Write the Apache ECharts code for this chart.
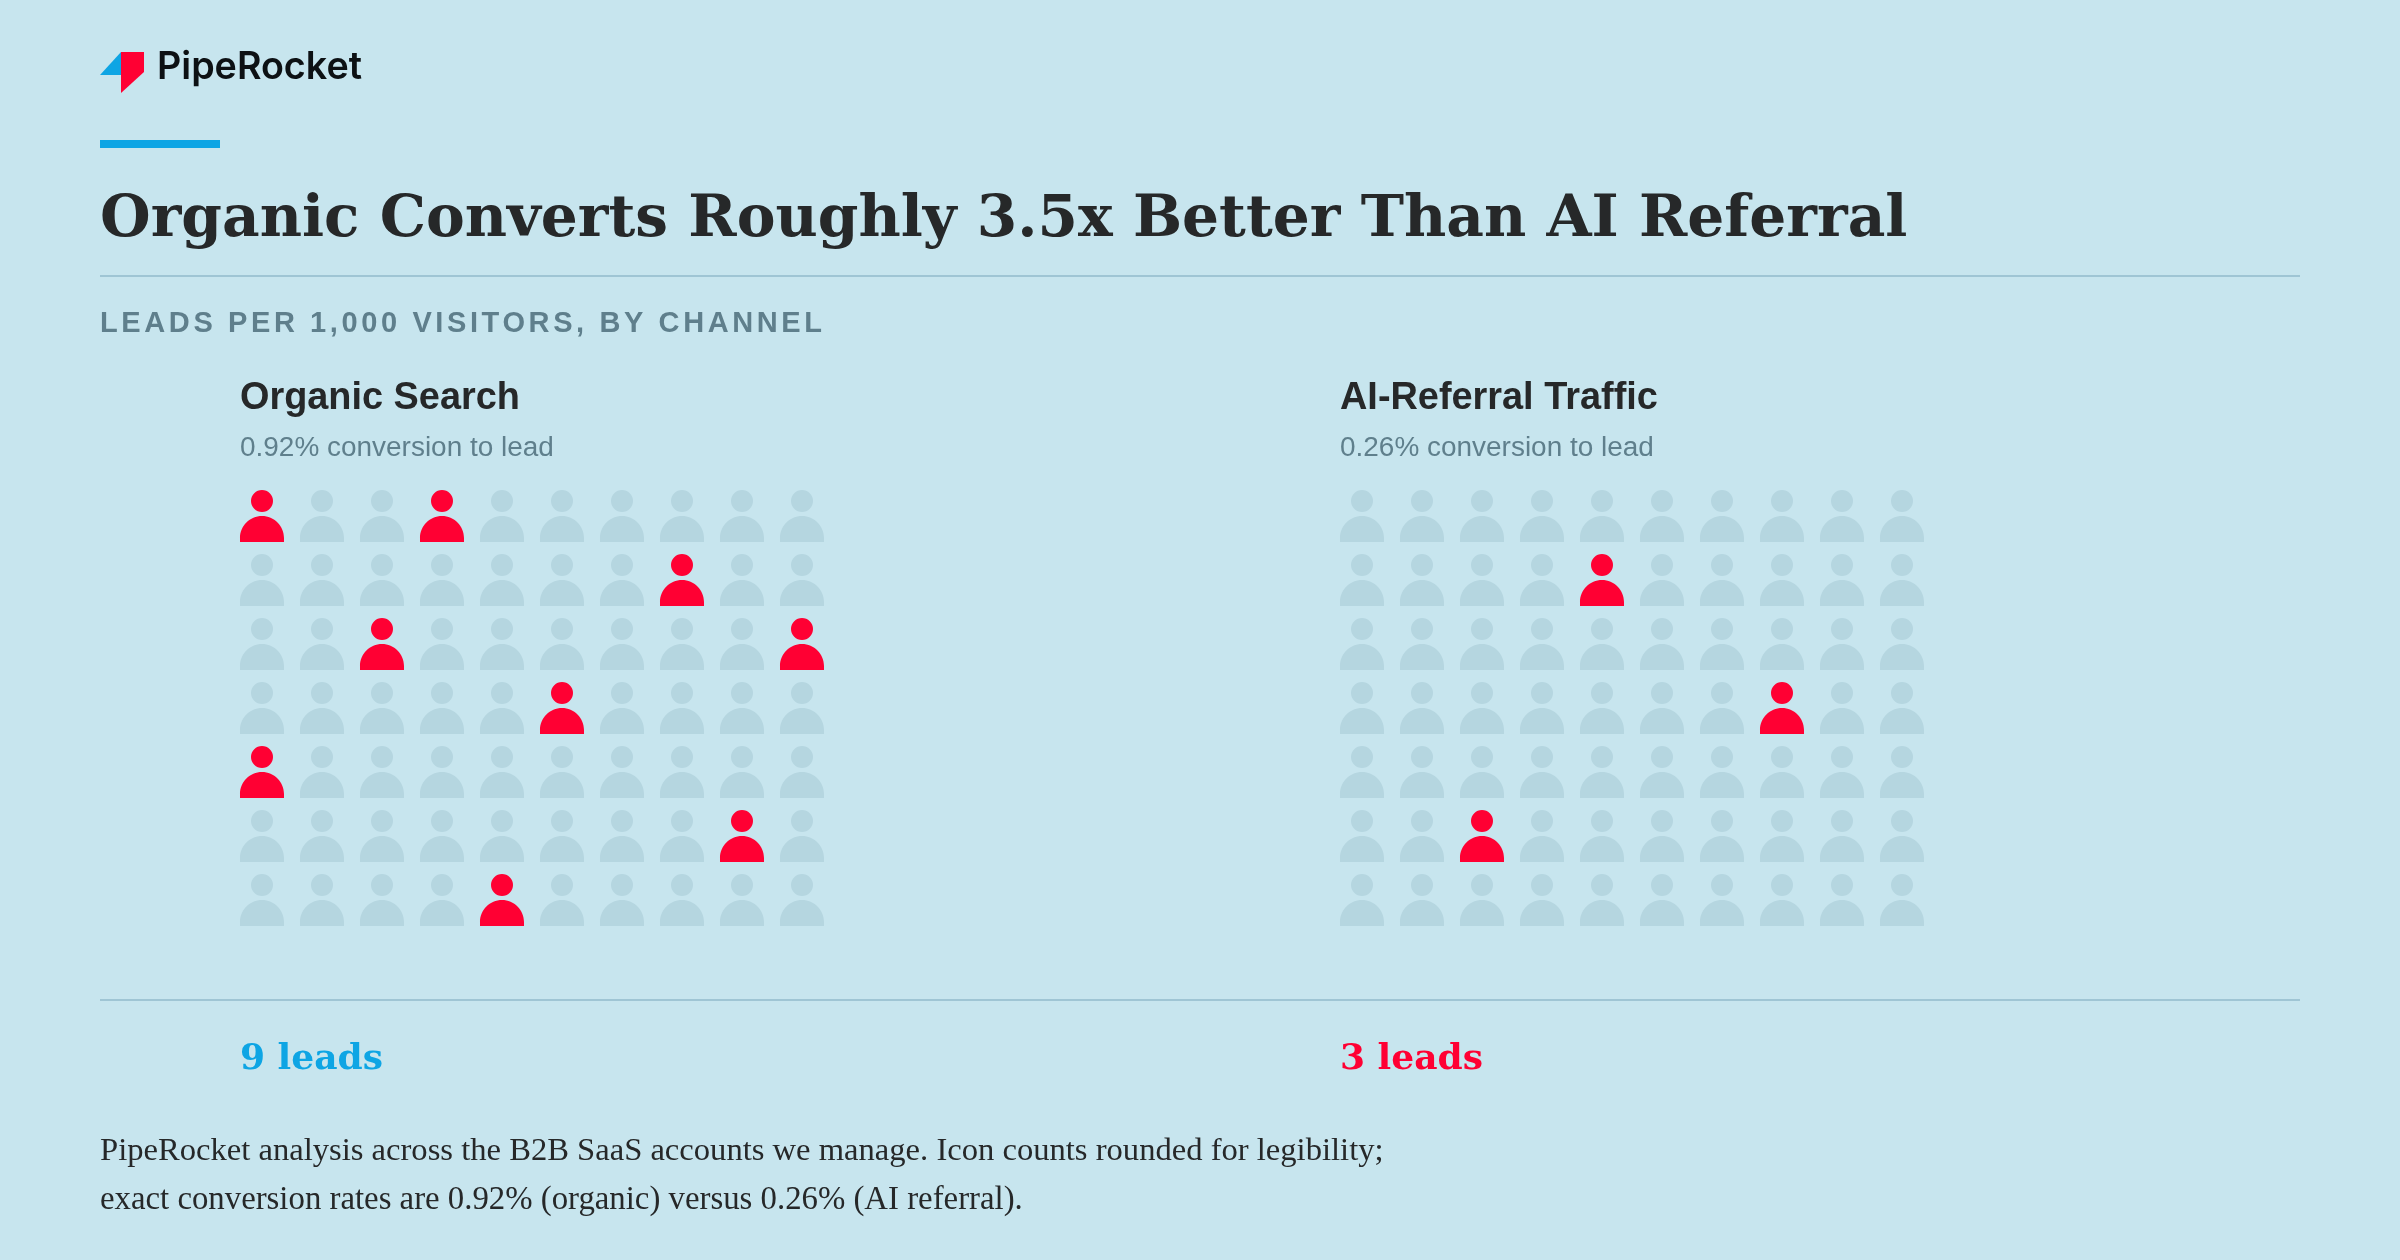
<!DOCTYPE html>
<html><head><meta charset="utf-8">
<style>html,body{margin:0;padding:0;background:#c7e5ee}#c{width:2400px;height:1260px}</style>
<script src="https://cdn.jsdelivr.net/npm/echarts@6/dist/echarts.min.js"></script>
</head><body><div id="c"></div>
<script>
const brand = 'PipeRocket';
const headline = 'Organic Converts Roughly 3.5x Better Than AI Referral';
const kicker = 'LEADS PER 1,000 VISITORS, BY CHANNEL';
const channels = ['Organic Search', 'AI-Referral Traffic'];
const rates = ['0.92% conversion to lead', '0.26% conversion to lead'];
const leads = ['9 leads', '3 leads'];
const footnotes = ['PipeRocket analysis across the B2B SaaS accounts we manage. Icon counts rounded for legibility;',
                   'exact conversion rates are 0.92% (organic) versus 0.26% (AI referral).'];
const columns = [0,1,2,3,4,5,6,7,8,9];
const rows = [0,1,2,3,4,5,6];
const organicHits = [[0,0],[3,0],[7,1],[2,2],[9,2],[5,3],[0,4],[8,5],[4,6]];
const aiHits = [[4,1],[7,3],[2,5]];

const BG='#c7e5ee', RED='#ff0033', BLUE='#0ea5e4', MUTE='#b5d6e0', INK='#262829', SLATE='#5f7f8c', RULE='#9fc5d4';
const person = 'path://M22 0a11 11 0 1 1 0 22a11 11 0 1 1 0-22zM22 26C34.150 26 44 35.850 44 48V52H0V48C0 35.850 9.850 26 22 26z';

const mctx = document.createElement('canvas').getContext('2d');
const fontStr=(f,s,w)=>`${w} ${s}px ${f}`;
const widthOf=(t,f,s,w)=>{mctx.font=fontStr(f,s,w);return mctx.measureText(t).width;};
const kickerSpacing=(722-widthOf(kicker,'"Liberation Sans"',29,700))/(kicker.length-1);

// canvas letter spacing, for the kicker line only
const ft = CanvasRenderingContext2D.prototype.fillText;
CanvasRenderingContext2D.prototype.fillText = function(t,x,y,m){
  if (t === kicker) { this.save(); this.letterSpacing = kickerSpacing+'px'; ft.call(this,t,x,y); this.restore(); return; }
  return m===undefined ? ft.call(this,t,x,y) : ft.call(this,t,x,y,m);
};

const chart = echarts.init(document.getElementById('c'), null, {renderer:'canvas', width:2400, height:1260});
const serif = '"DejaVu Serif"', sans = '"Liberation Sans"';
// x + alphabetic baseline -> zrender 'middle' anchored text
const txt = (x,base,text,font,size,weight,fill)=>{
  mctx.font=fontStr(font,size,weight); mctx.textBaseline='middle';
  const m=mctx.measureText('x');
  const y=base-Math.abs(m.alphabeticBaseline);
  return {type:'text',x,y,silent:true,style:{text,fontFamily:font,fontSize:size,fontWeight:weight,fill,textBaseline:'middle',verticalAlign:'middle',align:'left'}};
};
const fit = (x,base,text,font,target,weight,fill)=>txt(x,base,text,font,100*target/widthOf(text,font,100,weight),weight,fill);
const rect=(x,y,w,h,fill)=>({type:'rect',silent:true,shape:{x,y,width:w,height:h},style:{fill}});
const poly=(pts,fill)=>({type:'polygon',silent:true,shape:{points:pts},style:{fill}});

const panelX=[240,1340];
const hitsBy=[organicHits,aiHits];
const grids=[],xAxes=[],yAxes=[],series=[];
panelX.forEach((px,i)=>{
  grids.push({left:px+22,top:516,width:540,height:384});
  xAxes.push({gridIndex:i,type:'value',min:0,max:9,show:false});
  yAxes.push({gridIndex:i,type:'value',min:0,max:6,inverse:true,show:false});
  const hit=new Set(hitsBy[i].map(p=>p.join()));
  const off=[];
  rows.forEach(r=>columns.forEach(c=>{if(!hit.has(c+','+r))off.push([c,r]);}));
  const base={type:'scatter',xAxisIndex:i,yAxisIndex:i,symbol:person,symbolSize:[44,52],silent:true,animation:false};
  series.push({...base,name:channels[i]+' other visitors',data:off,itemStyle:{color:MUTE,opacity:1}});
  series.push({...base,name:channels[i]+' leads',data:hitsBy[i],itemStyle:{color:RED,opacity:1}});
});

chart.setOption({
  animation:false,
  backgroundColor:BG,
  grid:grids,xAxis:xAxes,yAxis:yAxes,series,
  graphic:{elements:[
    poly([[100,75],[121,52],[121,75]],BLUE),
    poly([[121,52],[144,52],[144,72],[121,93]],RED),
    fit(157,79,brand,'"Inter"',205,600,'#0d1114'),
    rect(100,140,120,8,BLUE),
    fit(100,236,headline,serif,1808,700,INK),
    rect(100,275,2200,2,RULE),
    txt(100,332,kicker,sans,29,700,SLATE),
    fit(240,409,channels[0],sans,280,700,INK),
    fit(240,456,rates[0],sans,314,400,SLATE),
    fit(1340,409,channels[1],sans,318,700,INK),
    fit(1340,456,rates[1],sans,314,400,SLATE),
    rect(100,999,2200,2,RULE),
    fit(240,1069,leads[0],serif,143,700,BLUE),
    fit(1340,1069,leads[1],serif,143,700,RED),
    fit(100,1160,footnotes[0],'"Liberation Serif"',1284,400,INK),
    fit(100,1209,footnotes[1],'"Liberation Serif"',923,400,INK)
  ]}
});
</script></body></html>
